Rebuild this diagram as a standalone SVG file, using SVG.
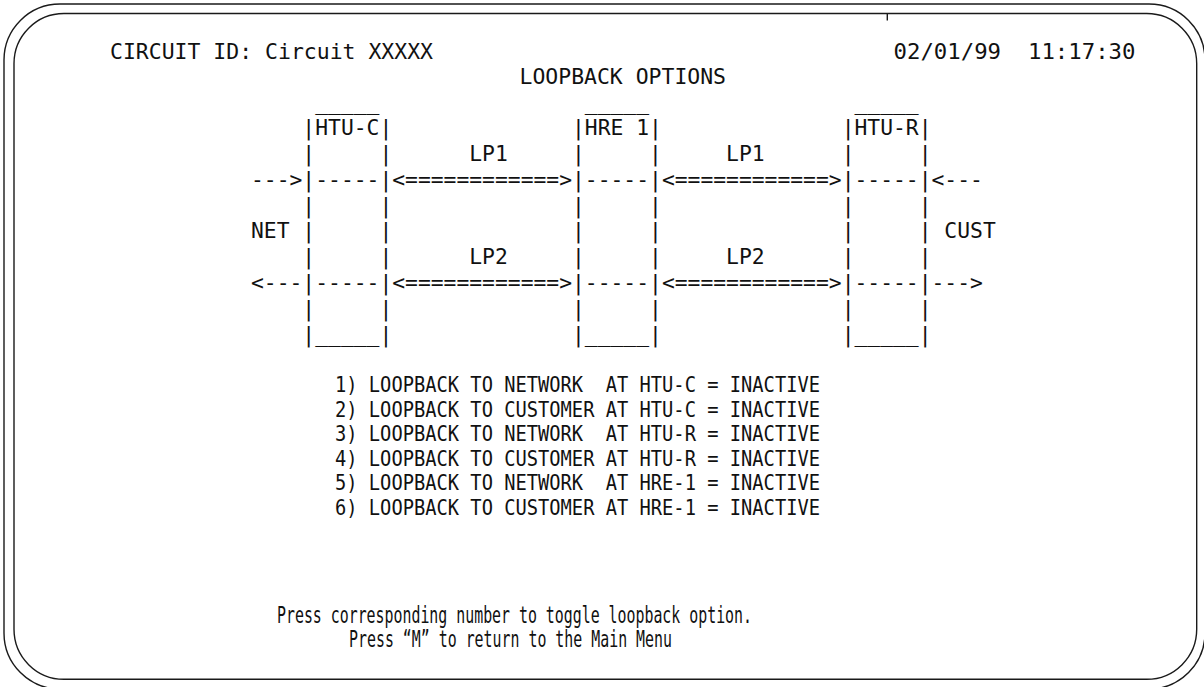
<svg xmlns="http://www.w3.org/2000/svg" width="1204" height="687" viewBox="0 0 1204 687" xml:space="preserve">
<style>
  .frame { fill: none; stroke: #1a1a1a; stroke-width: 1.4; }
  .t { font-family: "DejaVu Sans Mono", "Liberation Mono", monospace; font-size: 21.33px; fill: #111; white-space: pre; }
  .h { font-size: 22px; }
  .opt { font-size: 22px; }
  .foot { font-size: 23px; }
</style>
<rect width="1204" height="687" fill="#ffffff"/>
<g id="frame">
  <rect class="frame" x="4" y="4" width="1201" height="685" rx="56" ry="56"/>
  <rect class="frame" x="14" y="13.5" width="1182.7" height="665.8" rx="50" ry="50"/>
  <line class="frame" x1="887.3" y1="13.5" x2="887.3" y2="20.5"/>
</g>
<g id="header">
  <text class="t" x="110" y="59" textLength="323" lengthAdjust="spacingAndGlyphs">CIRCUIT ID: Circuit XXXXX</text>
  <text class="t" x="893.5" y="59" textLength="242" lengthAdjust="spacingAndGlyphs">02/01/99  11:17:30</text>
  <text class="t h" x="519.5" y="84.3" textLength="206.5" lengthAdjust="spacingAndGlyphs">LOOPBACK OPTIONS</text>
</g>
<g id="node-htu-c">
  <text class="t" x="315.2" y="109.8">_____</text>
  <text class="t" x="302.36" y="135">|HTU-C|</text>
  <text class="t" x="302.36" y="160.85">|     |</text>
  <text class="t" x="302.36" y="186.7">|-----|</text>
  <text class="t" x="302.36" y="212.55">|     |</text>
  <text class="t" x="302.36" y="238.4">|     |</text>
  <text class="t" x="302.36" y="264.25">|     |</text>
  <text class="t" x="302.36" y="290.1">|-----|</text>
  <text class="t" x="302.36" y="315.95">|     |</text>
  <text class="t" x="302.36" y="341.8">|_____|</text>
</g>
<g id="node-hre-1">
  <text class="t" x="584.84" y="109.8">_____</text>
  <text class="t" x="572" y="135">|HRE 1|</text>
  <text class="t" x="572" y="160.85">|     |</text>
  <text class="t" x="572" y="186.7">|-----|</text>
  <text class="t" x="572" y="212.55">|     |</text>
  <text class="t" x="572" y="238.4">|     |</text>
  <text class="t" x="572" y="264.25">|     |</text>
  <text class="t" x="572" y="290.1">|-----|</text>
  <text class="t" x="572" y="315.95">|     |</text>
  <text class="t" x="572" y="341.8">|_____|</text>
</g>
<g id="node-htu-r">
  <text class="t" x="854.48" y="109.8">_____</text>
  <text class="t" x="841.64" y="135">|HTU-R|</text>
  <text class="t" x="841.64" y="160.85">|     |</text>
  <text class="t" x="841.64" y="186.7">|-----|</text>
  <text class="t" x="841.64" y="212.55">|     |</text>
  <text class="t" x="841.64" y="238.4">|     |</text>
  <text class="t" x="841.64" y="264.25">|     |</text>
  <text class="t" x="841.64" y="290.1">|-----|</text>
  <text class="t" x="841.64" y="315.95">|     |</text>
  <text class="t" x="841.64" y="341.8">|_____|</text>
</g>
<g id="node-net">
  <text class="t" x="251" y="238.4">NET</text>
</g>
<g id="node-cust">
  <text class="t" x="944.36" y="238.4">CUST</text>
</g>
<g id="connectors">
  <text class="t" x="251" y="186.7">---&gt;</text>
  <text class="t" x="392.24" y="186.7">&lt;============&gt;</text>
  <text class="t" x="661.88" y="186.7">&lt;============&gt;</text>
  <text class="t" x="931.52" y="186.7">&lt;---</text>
  <text class="t" x="251" y="290.1">&lt;---</text>
  <text class="t" x="392.24" y="290.1">&lt;============&gt;</text>
  <text class="t" x="661.88" y="290.1">&lt;============&gt;</text>
  <text class="t" x="931.52" y="290.1">---&gt;</text>
  <text class="t" x="469.28" y="160.85">LP1</text>
  <text class="t" x="726.08" y="160.85">LP1</text>
  <text class="t" x="469.28" y="264.25">LP2</text>
  <text class="t" x="726.08" y="264.25">LP2</text>
</g>
<g id="options">
  <text class="t opt" x="335" y="392" textLength="485" lengthAdjust="spacingAndGlyphs">1) LOOPBACK TO NETWORK  AT HTU-C = INACTIVE</text>
  <text class="t opt" x="335" y="416.6" textLength="485" lengthAdjust="spacingAndGlyphs">2) LOOPBACK TO CUSTOMER AT HTU-C = INACTIVE</text>
  <text class="t opt" x="335" y="441.2" textLength="485" lengthAdjust="spacingAndGlyphs">3) LOOPBACK TO NETWORK  AT HTU-R = INACTIVE</text>
  <text class="t opt" x="335" y="465.8" textLength="485" lengthAdjust="spacingAndGlyphs">4) LOOPBACK TO CUSTOMER AT HTU-R = INACTIVE</text>
  <text class="t opt" x="335" y="490.4" textLength="485" lengthAdjust="spacingAndGlyphs">5) LOOPBACK TO NETWORK  AT HRE-1 = INACTIVE</text>
  <text class="t opt" x="335" y="515" textLength="485" lengthAdjust="spacingAndGlyphs">6) LOOPBACK TO CUSTOMER AT HRE-1 = INACTIVE</text>
</g>
<g id="footer">
  <text class="t foot" x="277" y="623.3" textLength="475" lengthAdjust="spacingAndGlyphs">Press corresponding number to toggle loopback option.</text>
  <text class="t foot" x="349" y="647.3" textLength="323" lengthAdjust="spacingAndGlyphs">Press “M” to return to the Main Menu</text>
</g>
</svg>
